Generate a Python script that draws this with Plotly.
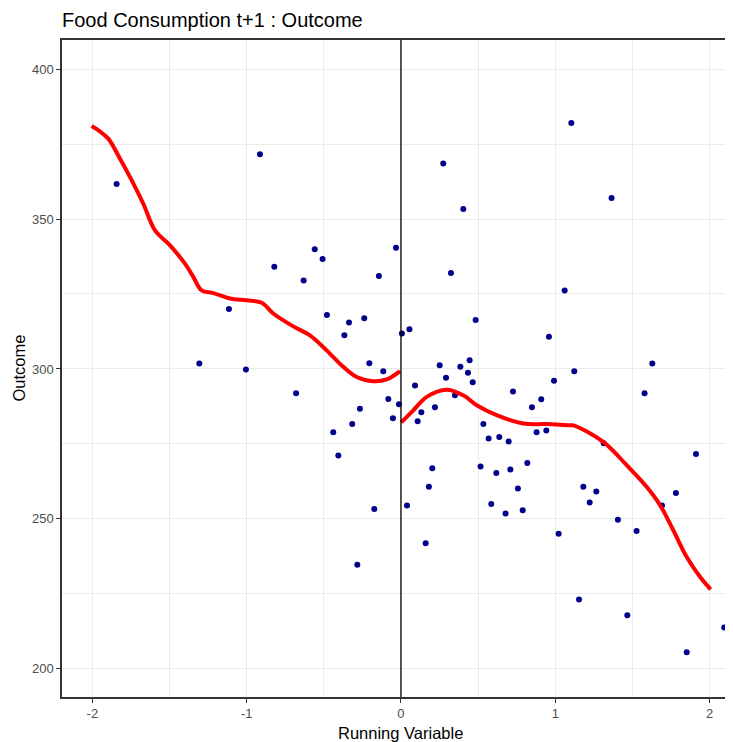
import plotly.graph_objects as go

# Scatter data (running variable, outcome)
point_x = [-1.843, -0.914, -1.115, -1.307, -1.005, -0.680, -0.821, -0.559, -0.508, -0.631,
           -0.480, -0.337, -0.367, -0.238, -0.143, -0.032, -0.205, -0.115, -0.082, -0.013,
           -0.266, -0.052, -0.316, -0.439, -0.406, -0.173, -0.283,
           0.006, 0.055, 0.274, 0.404, 0.324, 1.061, 0.484, 0.959, 0.251, 0.445,
           0.385, 0.434, 0.292, 0.465, 1.123, 0.992, 0.091, 0.726, 0.350, 0.220,
           0.909, 0.849, 0.132, 0.108, 0.534, 0.568, 0.637, 0.698, 0.879, 0.942,
           0.203, 0.516, 0.618, 0.709, 0.819, 0.181, 0.758, 0.039, 0.585, 0.678,
           0.789, 1.022, 0.160, 1.104, 1.365, 1.629, 1.579, 1.314, 1.912, 1.182,
           1.266, 1.223, 1.782, 1.692, 1.406, 1.527, 1.154, 1.467, 2.095, 1.852]
point_y = [361.7, 371.6, 320.0, 301.8, 299.8, 291.9, 334.1, 339.9, 336.7, 329.5,
           318.0, 315.5, 311.2, 316.9, 331.0, 340.4, 301.9, 299.2, 290.0, 288.2,
           286.7, 283.6, 281.6, 278.9, 271.1, 253.3, 234.7,
           311.8, 313.2, 368.5, 353.3, 332.0, 326.2, 316.3, 310.7, 301.2, 302.9,
           300.7, 298.7, 297.1, 295.6, 299.2, 296.1, 294.5, 292.5, 291.2, 287.2,
           289.9, 287.2, 285.6, 282.6, 281.6, 276.8, 277.3, 275.8, 278.9, 279.5,
           266.9, 267.5, 265.3, 266.5, 268.6, 260.7, 260.1, 254.5, 255.0, 251.8,
           252.9, 245.0, 241.9, 382.0, 357.0, 301.8, 291.9, 275.2, 271.6, 260.7,
           259.1, 255.5, 258.6, 254.5, 249.7, 246.0, 223.1, 217.9, 213.8, 205.5]

# Smoothed fit, left of cutoff
left_x = [-2.005, -1.951, -1.897, -1.821, -1.745, -1.670, -1.594, -1.497, -1.400, -1.346,
          -1.292, -1.216, -1.108, -1.000, -0.903, -0.828, -0.698, -0.590, -0.482, -0.374,
          -0.287, -0.180, -0.093, -0.006]
left_y = [381.0, 379.2, 376.8, 370.1, 362.9, 355.1, 346.2, 341.2, 335.1, 330.7,
          326.2, 325.3, 323.5, 322.9, 322.1, 318.5, 314.2, 311.2, 306.2, 300.7,
          297.3, 295.9, 296.5, 299.3]

# Smoothed fit, right of cutoff
right_x = [0.002, 0.080, 0.167, 0.296, 0.404, 0.491, 0.620, 0.793, 0.944, 1.095,
           1.117, 1.311, 1.463, 1.592, 1.679, 1.765, 1.852, 1.938, 2.007]
right_y = [282.2, 286.2, 290.7, 293.1, 291.2, 287.9, 284.6, 281.8, 281.6, 281.2,
           281.2, 275.7, 267.9, 260.7, 254.6, 246.2, 237.3, 230.7, 226.5]

cutoff = 0
x_ticks = [-2, -1, 0, 1, 2]
y_ticks = [200, 250, 300, 350, 400]

FONT = "Liberation Sans, Arial, sans-serif"

# The page body adds an 8px offset; the figure is sized to fill the window exactly.
W, H = 725, 734
ML, MT, MB = 54, 32, 45
PW, PH = W - ML, H - MT - MB

fig = go.Figure()
fig.add_trace(go.Scatter(x=point_x, y=point_y, mode="markers",
                         marker=dict(color="#00008B", size=6, line=dict(width=0)),
                         showlegend=False, hoverinfo="x+y"))
fig.add_trace(go.Scatter(x=left_x, y=left_y, mode="lines",
                         line=dict(color="#FF0000", width=4, shape="spline"),
                         showlegend=False))
fig.add_trace(go.Scatter(x=right_x, y=right_y, mode="lines",
                         line=dict(color="#FF0000", width=4, shape="spline"),
                         showlegend=False))

fig.add_shape(type="line", xref="x", yref="paper", x0=cutoff, x1=cutoff, y0=0, y1=1,
              line=dict(color="#000000", width=1.3), layer="above")

# Axis titles placed as annotations for exact positioning
fig.add_annotation(text="Running Variable", xref="paper", yref="paper",
                   x=(401 - 62) / PW, y=-36 / PH, xanchor="center", yanchor="middle",
                   showarrow=False, font=dict(size=16.5, color="#000000", family=FONT))
fig.add_annotation(text="Outcome", xref="paper", yref="paper", textangle=-90,
                   x=(18 - 62) / PW, y=(697 - 368.5) / PH, xanchor="center", yanchor="middle",
                   showarrow=False, font=dict(size=16.5, color="#000000", family=FONT))

fig.update_layout(
    width=W, height=H,
    margin=dict(l=ML, r=0, t=MT, b=MB, autoexpand=False),
    paper_bgcolor="white", plot_bgcolor="white",
    font=dict(family=FONT, color="#000000"),
    title=dict(text="Food Consumption t+1 : Outcome", x=ML / W, xanchor="left",
               xref="container", yref="container", y=1 - 11.5 / H, yanchor="middle",
               font=dict(size=20, color="#000000", family=FONT)),
    xaxis=dict(range=[-2.197, 2.152], tickvals=x_ticks, ticktext=[str(v) for v in x_ticks],
               automargin=False,
               showgrid=True, gridcolor="#EBEBEB", gridwidth=1.2,
               minor=dict(dtick=0.5, tick0=0, showgrid=True, gridcolor="#EBEBEB", gridwidth=1),
               zeroline=False, showline=True, mirror=True, linecolor="#333333", linewidth=1.5,
               ticks="outside", ticklen=4, tickcolor="#333333", tickwidth=1.2,
               tickfont=dict(size=13, color="#4D4D4D", family=FONT)),
    yaxis=dict(range=[190.6, 409.7], tickvals=y_ticks, ticktext=[str(v) for v in y_ticks],
               automargin=False,
               showgrid=True, gridcolor="#EBEBEB", gridwidth=1.2,
               minor=dict(dtick=25, tick0=200, showgrid=True, gridcolor="#EBEBEB", gridwidth=1),
               zeroline=False, showline=True, mirror=False, linecolor="#333333", linewidth=1.5,
               ticks="outside", ticklen=4, tickcolor="#333333", tickwidth=1.2,
               tickfont=dict(size=13, color="#4D4D4D", family=FONT)),
)

fig.write_html("out.html")
